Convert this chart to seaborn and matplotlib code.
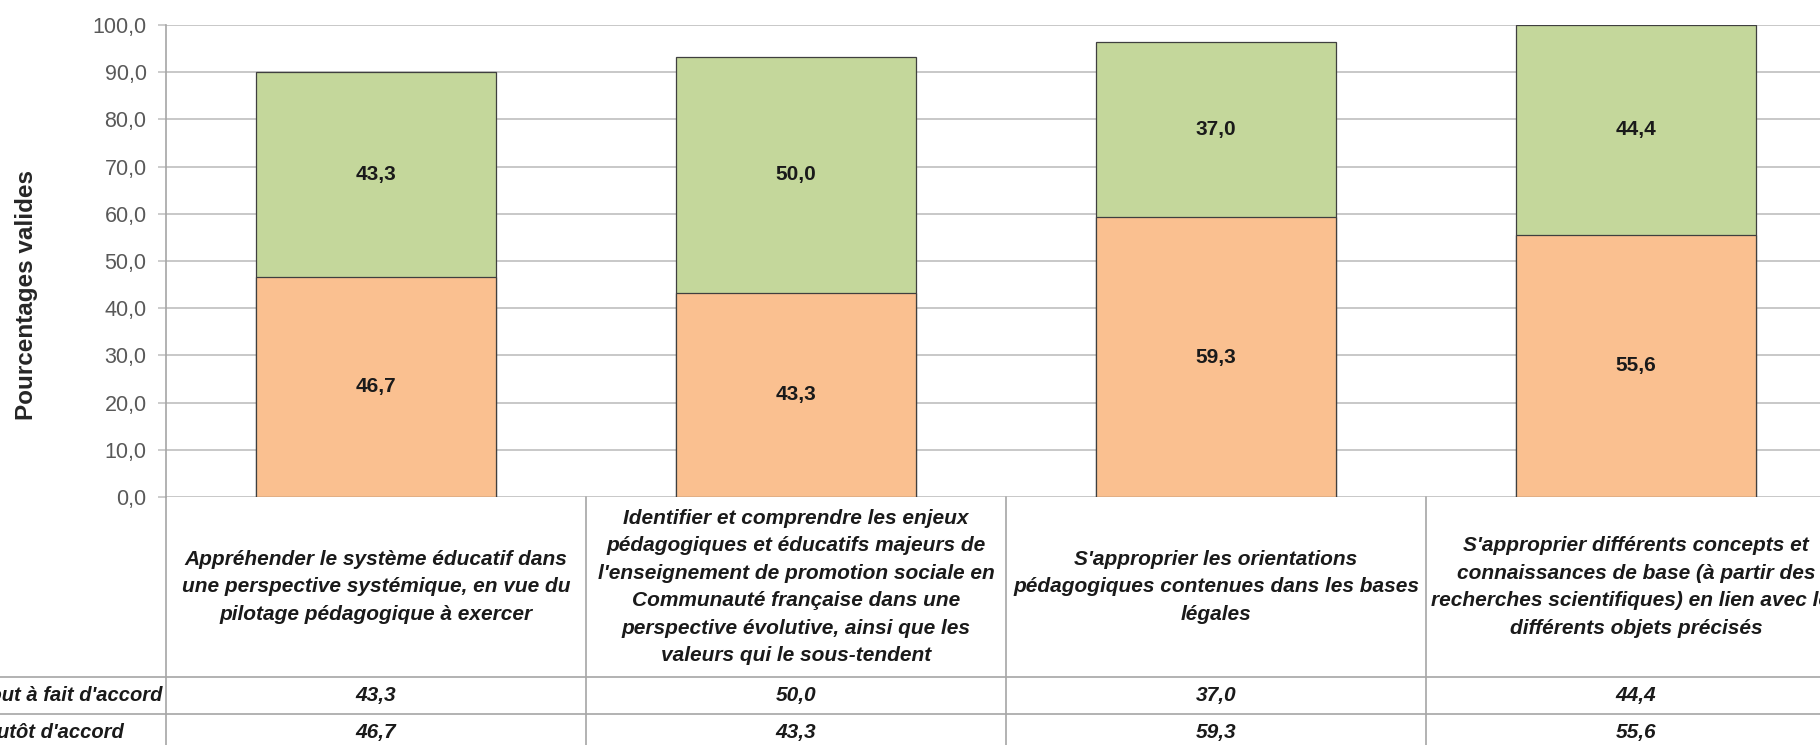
import matplotlib
matplotlib.use("Agg")
import matplotlib.pyplot as plt
from matplotlib.lines import Line2D
from matplotlib.transforms import blended_transform_factory
import seaborn as sns

# Categories (objectives) and response shares in percent
categories = [
    "Appréhender le système éducatif dans\nune perspective systémique, en vue du\npilotage pédagogique à exercer",
    "Identifier et comprendre les enjeux\npédagogiques et éducatifs majeurs de\nl'enseignement de promotion sociale en\nCommunauté française dans une\nperspective évolutive, ainsi que les\nvaleurs qui le sous-tendent",
    "S'approprier les orientations\npédagogiques contenues dans les bases\nlégales",
    "S'approprier différents concepts et\nconnaissances de base (à partir des\nrecherches scientifiques) en lien avec les\ndifférents objets précisés",
]
series_names = ["Tout à fait d'accord", "Plutôt d'accord"]
tout_a_fait = [43.3, 50.0, 37.0, 44.4]
plutot = [46.7, 43.3, 59.3, 55.6]
y_ticks = [0, 10, 20, 30, 40, 50, 60, 70, 80, 90, 100]
y_label = "Pourcentages valides"

GREEN = "#C4D79B"
ORANGE = "#FAC090"
EDGE = "#3F3F3F"
GRID = "#BFBFBF"
TABLE_LINE = "#A6A6A6"
TEXT = "#1A1A1A"

sns.set_style("white")
plt.rcParams["font.family"] = ["Liberation Sans", "DejaVu Sans"]

W, H = 1820, 745
fig = plt.figure(figsize=(W / 100, H / 100), dpi=100)

def fx(px):
    return px / W

def fy(px):
    return 1 - px / H

# plot area: x axis at y=497 px, 100 % at y=25 px; each category 420 px wide
ax_left, ax_top, ax_bottom, cat_w = 166, 25, 497, 420
ax = fig.add_axes([fx(ax_left), fy(ax_bottom), 4 * cat_w / W, (ax_bottom - ax_top) / H])

keys = ["c1", "c2", "c3", "c4"]
totals = [a + b for a, b in zip(tout_a_fait, plutot)]
bar_w = 240 / cat_w

sns.barplot(x=keys, y=totals, color=GREEN, saturation=1, width=bar_w,
            edgecolor=EDGE, linewidth=0.9, errorbar=None, ax=ax, zorder=2)
sns.barplot(x=keys, y=plutot, color=ORANGE, saturation=1, width=bar_w,
            edgecolor=EDGE, linewidth=0.9, errorbar=None, ax=ax, zorder=3)

def fmt(v):
    return f"{v:.1f}".replace(".", ",")

for i, (g, o) in enumerate(zip(tout_a_fait, plutot)):
    ax.text(i, o / 2, fmt(o), ha="center", va="center", fontsize=15,
            fontweight="bold", color=TEXT, zorder=5)
    ax.text(i, o + g / 2, fmt(g), ha="center", va="center", fontsize=15,
            fontweight="bold", color=TEXT, zorder=5)

ax.set_xlim(-0.5, 3.5)
ax.set_ylim(0, 100)
ax.set_yticks(y_ticks)
ax.set_yticklabels([fmt(t) for t in y_ticks], fontsize=15.5, color="#595959")
ax.set_xticks([])
ax.set_xlabel("")
ax.set_ylabel("")
ax.yaxis.grid(True, color=GRID, linewidth=1.2)
ax.set_axisbelow(True)
ax.tick_params(axis="y", length=6, width=1.1, color=GRID, pad=8, left=True)
for side in ["top", "right", "bottom"]:
    ax.spines[side].set_visible(False)
ax.spines["left"].set_color("#A6A6A6")
ax.spines["left"].set_linewidth(1.2)

fig.text(fx(27), fy(295), y_label, rotation=90, ha="center", va="center",
         fontsize=17.5, fontweight="bold", color="#262626")

# data table under the plot
bt = blended_transform_factory(ax.transData, fig.transFigure)
header_bottom, row1_bottom, row2_bottom = 677, 714, 751

for k in range(5):
    xd = k - 0.5
    fig.add_artist(Line2D([xd, xd], [fy(ax_bottom), fy(row2_bottom)], transform=bt,
                          color=TABLE_LINE, linewidth=1.2))
for yp in [header_bottom, row1_bottom, row2_bottom]:
    fig.add_artist(Line2D([0, 1], [fy(yp), fy(yp)], transform=fig.transFigure,
                          color=TABLE_LINE, linewidth=1.2))

for i, cat in enumerate(categories):
    fig.text(i, fy((ax_bottom + header_bottom) / 2), cat, transform=bt,
             ha="center", va="center", fontsize=15, fontweight="bold",
             style="italic", color=TEXT, linespacing=1.56)

# row headers are left-aligned in a column that starts left of the figure edge
rows = [(series_names[0], tout_a_fait, (header_bottom + row1_bottom) / 2),
        (series_names[1], plutot, (row1_bottom + row2_bottom) / 2)]
for name, vals, yc in rows:
    fig.text(fx(-22), fy(yc), name, ha="left", va="center", fontsize=14.5,
             fontweight="bold", style="italic", color=TEXT)
    for i, v in enumerate(vals):
        fig.text(i, fy(yc), fmt(v), transform=bt, ha="center", va="center",
                 fontsize=15, fontweight="bold", style="italic", color=TEXT)

fig.savefig("out.png", dpi=100)
